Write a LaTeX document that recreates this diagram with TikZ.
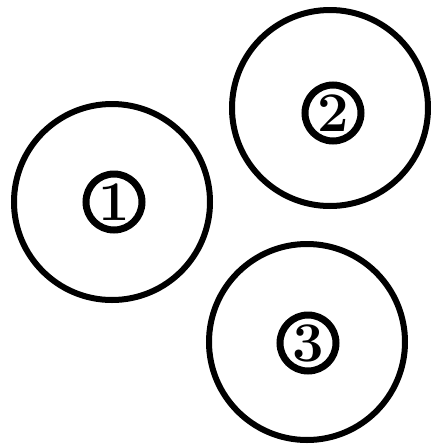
\documentclass[tikz,border=0pt]{standalone}
\usepackage{fontspec}
\begin{document}
\begin{tikzpicture}[
        x = 1pt, y = -1pt,
        disc/.style = {draw, circle, line width = 6pt, minimum size = 196pt, inner sep = 0pt},
        num/.style = {draw, circle, line width = 7pt, minimum size = 56pt, inner sep = 0pt,
                      font = \fontsize{56}{56}\selectfont\bfseries}
    ]

      \useasboundingbox (0,0) rectangle (431,448);

      % the three discs
      \node[disc] (one)   at (112,202) {};
      \node[disc] (two)   at (330,108) {};
      \node[disc] (three) at (307,342) {};

      % circled numbers
      \node[num] (n1) at (114,202) {1};
      \node[num] (n2) at (333,113) {2};
      \node[num] (n3) at (308,343) {3};

\end{tikzpicture}
\end{document}
